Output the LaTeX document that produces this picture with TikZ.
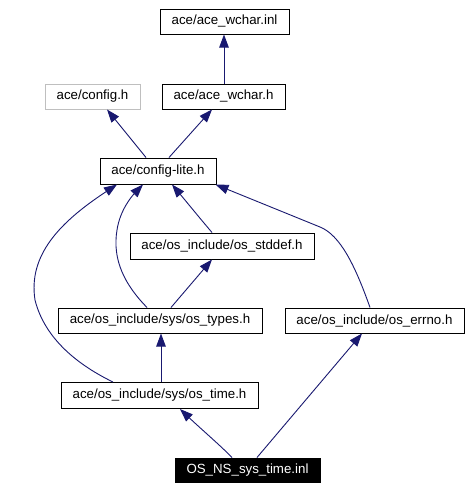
\documentclass[tikz,border=0pt]{standalone}
\usepackage{fontspec}
\setmainfont{Liberation Sans}
\usetikzlibrary{arrows.meta}
\definecolor{edgeblue}{HTML}{191970}
\definecolor{greyframe}{HTML}{BFBFBF}
\tikzset{
  filebox/.style={draw=black, line width=1pt, fill=white, minimum height=25pt, inner sep=0pt, font=\fontsize{13.3}{16}\selectfont, text=black},
  dep/.style={draw=edgeblue, line width=0.9pt, -{Triangle[length=13pt,width=9.5pt]}, edgeblue}
}
\begin{document}
\begin{tikzpicture}[x=1pt,y=-1pt]
\useasboundingbox (0,0) rectangle (471,490);
\fill[white] (0,0) rectangle (471,490);
\node[filebox, minimum width=129pt] (inl) at (224.5,21.5) {ace/ace\_wchar.inl};
\node[filebox, draw=greyframe, minimum width=95pt] (config) at (92.5,96.5) {ace/config.h};
\node[filebox, minimum width=123pt] (wchar) at (223.5,96.5) {ace/ace\_wchar.h};
\node[filebox, minimum width=116pt, minimum height=26pt] (lite) at (158,171) {ace/config-lite.h};
\node[filebox, minimum width=184pt, minimum height=26pt] (stddef) at (222,246) {ace/os\_include/os\_stddef.h};
\node[filebox, minimum width=204pt] (types) at (160,320.5) {ace/os\_include/sys/os\_types.h};
\node[filebox, minimum width=179pt] (errno) at (374.5,320.5) {ace/os\_include/os\_errno.h};
\node[filebox, minimum width=197pt, minimum height=26pt] (time) at (159.5,395.5) {ace/os\_include/sys/os\_time.h};
\node[filebox, fill=black, text=white, minimum width=145pt, minimum height=24pt] (osns) at (247.5,470) {OS\_NS\_sys\_time.inl};

\draw[dep] ([xshift=0.5pt]wchar.north) -- ([xshift=-0.5pt]inl.south);
\draw[dep] ([xshift=-12pt]lite.north) -- ([xshift=14.5pt]config.south);
\draw[dep] ([xshift=11pt]lite.north) -- ([xshift=-11.5pt]wchar.south);
\draw[dep] ([xshift=-46.5pt]time.north) .. controls (80,366) and (45,340) .. (35,300)
   .. controls (28,255) and (60,222) .. ([xshift=-41pt]lite.south);
\draw[dep] ([xshift=-13pt]types.north) .. controls (125,285) and (112,260) .. (117,230)
   .. controls (120,210) and (132,196) .. ([xshift=-15pt]lite.south);
\draw[dep] ([xshift=-10pt]stddef.north) .. controls (198,216) and (185,200) .. ([xshift=14pt]lite.south);
\draw[dep] ([xshift=-4.5pt]errno.north) .. controls (355,265) and (340,235) .. (320,227) -- ([xshift=-1pt]lite.south east);
\draw[dep] ([xshift=11pt]types.north) -- ([xshift=-10pt]stddef.south);
\draw[dep] ([xshift=1.5pt]time.north) -- ([xshift=1pt]types.north |- types.south);
\draw[dep] ([xshift=-15.5pt]osns.north) .. controls (222,447) and (200,428) .. ([xshift=20.5pt]time.south);
\draw[dep] ([xshift=9.5pt]osns.north) -- ([xshift=-12.5pt]errno.south);
\end{tikzpicture}
\end{document}
